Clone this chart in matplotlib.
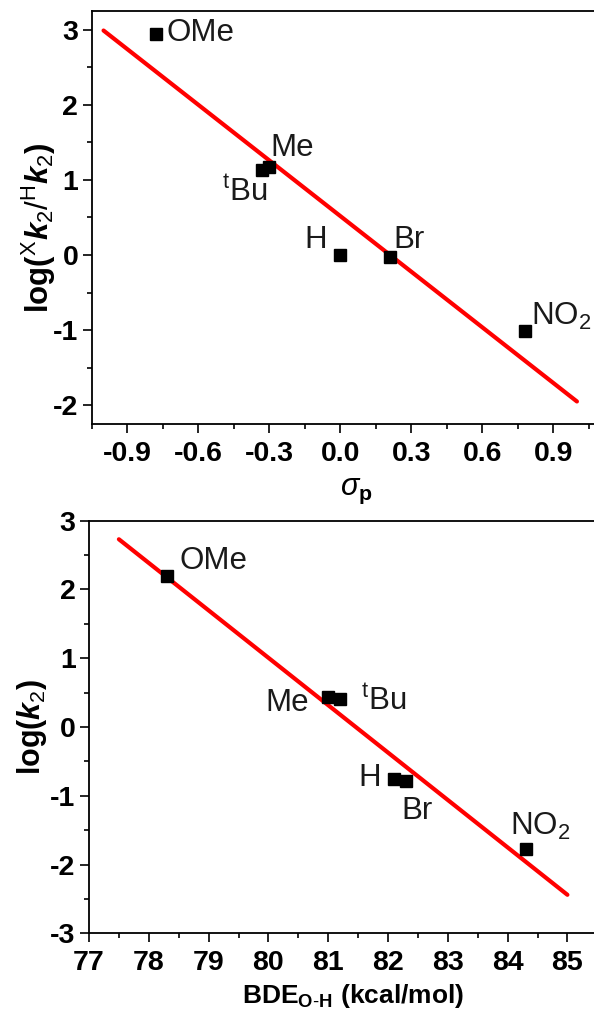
import matplotlib
matplotlib.use("Agg")
import matplotlib.pyplot as plt
from matplotlib.ticker import MultipleLocator, FormatStrFormatter

# ---------------- data ----------------
labels = ["OMe", "Me", "tBu", "H", "Br", "NO2"]

sigma_p = [-0.78, -0.30, -0.33, 0.00, 0.21, 0.78]
log_rel_k2 = [2.95, 1.17, 1.13, 0.00, -0.02, -1.01]
fit1_x = [-1.0, 1.0]
fit1_y = [2.99, -1.95]

bde_oh = [78.3, 81.0, 81.2, 82.1, 82.3, 84.3]
log_k2 = [2.19, 0.43, 0.40, -0.76, -0.79, -1.78]
fit2_x = [77.5, 85.0]
fit2_y = [2.73, -2.44]

top_xticks = [-0.9, -0.6, -0.3, 0.0, 0.3, 0.6, 0.9]
top_yticks = [-2, -1, 0, 1, 2, 3]
bot_xticks = [77, 78, 79, 80, 81, 82, 83, 84, 85]
bot_yticks = [-3, -2, -1, 0, 1, 2, 3]

# ---------------- style ----------------
plt.rcParams['font.family'] = ['Liberation Sans', 'DejaVu Sans']
plt.rcParams['axes.unicode_minus'] = False
plt.rcParams['mathtext.fontset'] = 'custom'
plt.rcParams['mathtext.rm'] = 'Liberation Sans'
plt.rcParams['mathtext.bf'] = 'Liberation Sans:bold'
plt.rcParams['mathtext.it'] = 'Liberation Sans:italic:bold'
plt.rcParams['mathtext.cal'] = 'Liberation Sans:italic'

disp = {"OMe": "OMe", "Me": "Me", "tBu": r"$^{\mathrm{t}}$Bu", "H": "H",
        "Br": "Br", "NO2": r"NO$_{\mathrm{2}}$"}

W, H = 594, 1010
fig = plt.figure(figsize=(W / 100, H / 100), dpi=100)

def px_axes(left, top, right, bottom):
    return fig.add_axes([left / W, 1 - bottom / H, (right - left) / W, (bottom - top) / H])

ax1 = px_axes(91.7, 11, 600.6, 424)
ax2 = px_axes(89.0, 520.7, 597.3, 933.3)

TICK_FS = 20.5
LAB_FS = 22.5

def style(ax):
    for s in ax.spines.values():
        s.set_linewidth(1.3)
    ax.tick_params(which='major', direction='out', length=6.7, width=1.2,
                   labelsize=TICK_FS)
    ax.tick_params(which='minor', direction='out', length=3.6, width=1.2)
    ax.tick_params(axis='y', pad=3)
    ax.tick_params(axis='x', pad=5.5)
    for t in ax.get_xticklabels() + ax.get_yticklabels():
        t.set_fontweight('bold')

# ---------------- top panel ----------------
ax1.plot(fit1_x, fit1_y, color='#ff0000', lw=3, zorder=2, solid_capstyle='round')
ax1.plot(sigma_p, log_rel_k2, 's', color='black', ms=8.5, zorder=3)
ax1.set_xlim(-1.05, 1.10)
ax1.set_ylim(-2.25, 3.25)
ax1.set_xticks(top_xticks)
ax1.set_yticks(top_yticks)
ax1.xaxis.set_minor_locator(MultipleLocator(0.15))
ax1.yaxis.set_minor_locator(MultipleLocator(0.5))
ax1.xaxis.set_major_formatter(FormatStrFormatter('%.1f'))
style(ax1)

top_off = {"OMe": (11, -7, 'left'), "Me": (1, 11, 'left'), "tBu": (5, -31, 'right'),
           "H": (-13, 7, 'right'), "Br": (3, 9, 'left'), "NO2": (6, 6, 'left')}
for lab, x, y in zip(labels, sigma_p, log_rel_k2):
    dx, dy, ha = top_off[lab]
    ax1.annotate(disp[lab], (x, y), xytext=(dx, dy), textcoords='offset pixels',
                 ha=ha, va='baseline', fontsize=LAB_FS, color='#1a1a1a')

ax1.set_ylabel(r'$\mathbf{log(}^{\mathrm{X}}k_{\mathrm{2}}\mathrm{/}^{\mathrm{H}}k_{\mathrm{2}}\mathbf{)}$',
               fontsize=22.5)
ax1.yaxis.set_label_coords(-0.066, 0.475)
ax1.set_xlabel(r'$\mathcal{\sigma}_{\mathbf{p}}$', fontsize=22)
ax1.xaxis.set_label_coords(0.52, -0.125)

# ---------------- bottom panel ----------------
ax2.plot(fit2_x, fit2_y, color='#ff0000', lw=3, zorder=2, solid_capstyle='round')
ax2.plot(bde_oh, log_k2, 's', color='black', ms=8.5, zorder=3)
ax2.set_xlim(77, 85.5)
ax2.set_ylim(-3, 3)
ax2.set_xticks(bot_xticks)
ax2.set_yticks(bot_yticks)
ax2.xaxis.set_minor_locator(MultipleLocator(0.5))
ax2.yaxis.set_minor_locator(MultipleLocator(0.5))
style(ax2)

bot_off = {"OMe": (13, 7, 'left'), "Me": (-19, -14, 'right'), "tBu": (21, -11, 'left'),
           "H": (-13, -7, 'right'), "Br": (-5, -38, 'left'), "NO2": (-16, 15, 'left')}
for lab, x, y in zip(labels, bde_oh, log_k2):
    dx, dy, ha = bot_off[lab]
    ax2.annotate(disp[lab], (x, y), xytext=(dx, dy), textcoords='offset pixels',
                 ha=ha, va='baseline', fontsize=LAB_FS, color='#1a1a1a')

ax2.set_ylabel(r'$\mathbf{log(}k_{\mathrm{2}}\mathbf{)}$', fontsize=22)
ax2.yaxis.set_label_coords(-0.079, 0.5)
ax2.set_xlabel(r'$\mathbf{BDE}_{\mathbf{O}\text{-}\mathbf{H}}\ \mathbf{(kcal/mol)}$', fontsize=19)
ax2.xaxis.set_label_coords(0.52, -0.118)

fig.savefig('out.png', dpi=100)
